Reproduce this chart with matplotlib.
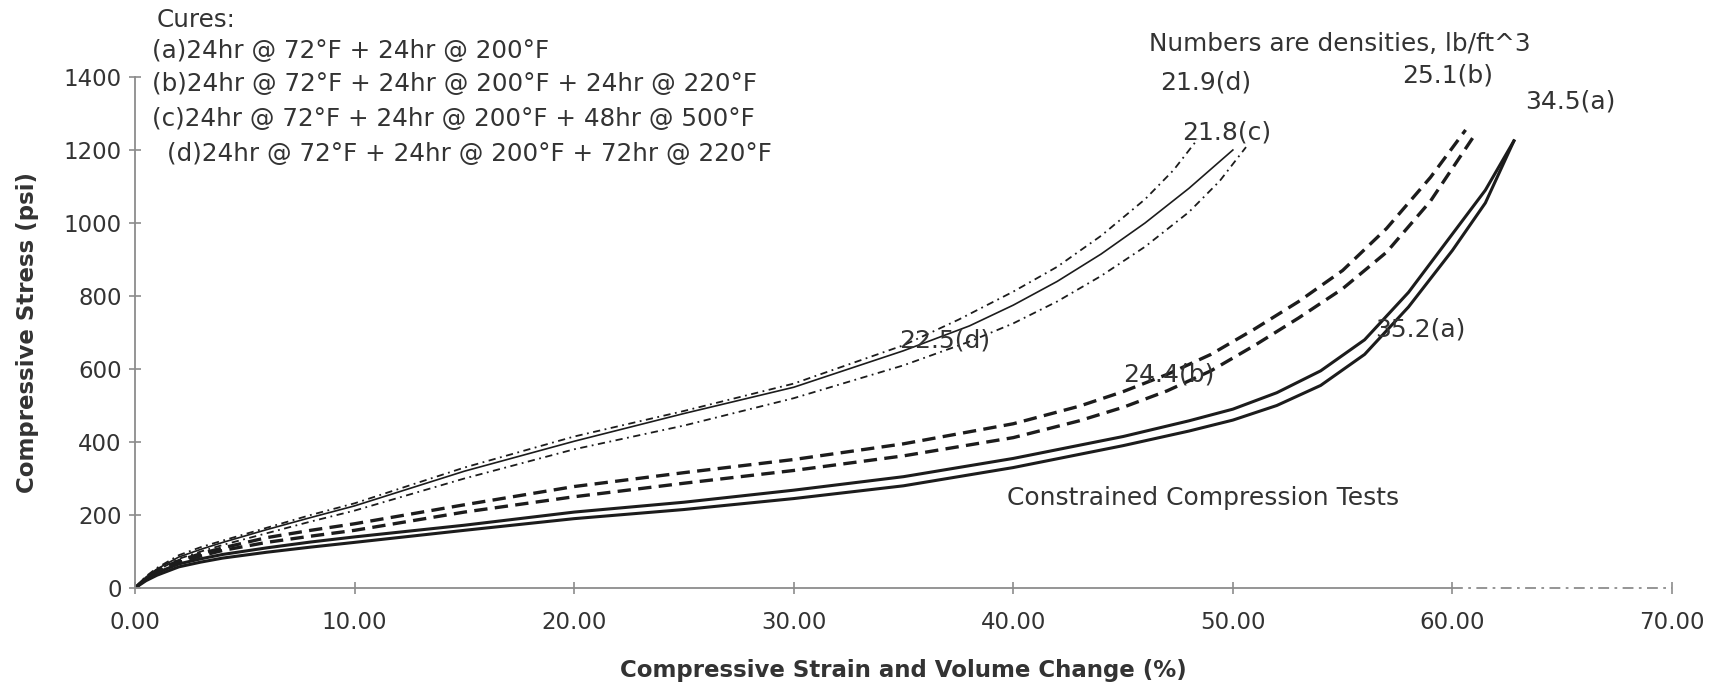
import numpy as np
import matplotlib
matplotlib.use("Agg")
import matplotlib.pyplot as plt

plt.rcParams['font.family'] = ['DejaVu Sans']

# (a) cure - solid heavy lines
a1_x = [0, 0.5, 1, 2, 3, 4, 6, 8, 10, 15, 20, 25, 30, 35, 40, 45, 48, 50, 52, 54, 56, 58, 60, 61.5, 62.8]
a1_y = [0, 25, 42, 66, 80, 92, 110, 126, 140, 172, 208, 235, 268, 305, 355, 415, 458, 490, 535, 595, 680, 810, 970, 1090, 1225]
a2_x = [0, 0.5, 1, 2, 3, 4, 6, 8, 10, 15, 20, 25, 30, 35, 40, 45, 48, 50, 52, 54, 56, 58, 60, 61.5, 62.8]
a2_y = [0, 20, 35, 58, 71, 82, 98, 112, 125, 158, 190, 215, 245, 280, 330, 390, 430, 460, 500, 555, 640, 770, 925, 1055, 1225]

# (b) cure - dashed lines
b1_x = [0, 0.5, 1, 2, 3, 4, 6, 8, 10, 15, 20, 25, 30, 35, 40, 43, 45, 47, 49, 51, 53, 55, 57, 59, 60.6]
b1_y = [0, 28, 48, 75, 94, 110, 138, 158, 176, 228, 278, 316, 352, 395, 450, 498, 538, 585, 640, 710, 785, 870, 985, 1125, 1255]
b2_x = [0, 0.5, 1, 2, 3, 4, 6, 8, 10, 15, 20, 25, 30, 35, 40, 43, 45, 47, 49, 51, 53, 55, 57, 59, 61]
b2_y = [0, 25, 44, 70, 88, 103, 125, 142, 158, 208, 250, 287, 322, 362, 412, 458, 495, 540, 595, 665, 740, 820, 920, 1060, 1240]

# (c) cure - thin solid
c_x = [0, 0.5, 1, 2, 3, 4, 6, 8, 10, 15, 20, 25, 30, 35, 38, 40, 42, 44, 46, 48, 50]
c_y = [0, 30, 52, 85, 106, 125, 160, 193, 225, 320, 402, 478, 550, 650, 718, 775, 840, 915, 1000, 1095, 1200]

# (d) cure - dash-dot
d1_x = [0, 0.5, 1, 2, 3, 4, 6, 8, 10, 15, 20, 25, 30, 35, 37.5, 40, 42, 44, 46, 47.3, 48.4]
d1_y = [0, 32, 55, 90, 112, 130, 165, 200, 232, 330, 415, 485, 560, 665, 735, 812, 880, 965, 1065, 1145, 1230]
d2_x = [0, 0.5, 1, 2, 3, 4, 6, 8, 10, 15, 20, 25, 30, 35, 38, 40, 42, 44, 46, 48, 49.4, 50.6]
d2_y = [0, 27, 48, 80, 100, 118, 150, 182, 212, 300, 380, 445, 520, 610, 675, 725, 785, 855, 935, 1030, 1115, 1208]

curve_labels = ["21.9(d)", "21.8(c)", "25.1(b)", "34.5(a)", "22.5(d)", "24.4(b)", "35.2(a)"]
label_pos = [(46.7, 1384), (47.7, 1249), (57.7, 1405), (63.3, 1334), (34.8, 677), (45.0, 586), (56.5, 707)]

cures = ["(a)24hr @ 72°F + 24hr @ 200°F",
         "(b)24hr @ 72°F + 24hr @ 200°F + 24hr @ 220°F",
         "(c)24hr @ 72°F + 24hr @ 200°F + 48hr @ 500°F",
         "(d)24hr @ 72°F + 24hr @ 200°F + 72hr @ 220°F"]

W, H = 1726, 691
fig = plt.figure(figsize=(W / 100, H / 100), dpi=100)
fig.patch.set_facecolor("white")
ax = fig.add_axes([135 / W, (H - 588) / H, 1537 / W, 511 / H])

ink = "#1c1c1c"
axc = "#8c8c8c"
txtc = "#333333"

ax.plot(a1_x, a1_y, color=ink, lw=2.2)
ax.plot(a2_x, a2_y, color=ink, lw=2.2)
ax.plot(b1_x, b1_y, color=ink, lw=2.4, dashes=(4, 2.2))
ax.plot(b2_x, b2_y, color=ink, lw=2.4, dashes=(4, 2.2))
ax.plot(c_x, c_y, color=ink, lw=1.2)
ax.plot(d1_x, d1_y, color=ink, lw=1.3, dashes=(4, 2.5, 1, 2.5))
ax.plot(d2_x, d2_y, color=ink, lw=1.3, dashes=(4, 2.5, 1, 2.5))

ax.set_xlim(0, 70)
ax.set_ylim(0, 1400)
ax.set_xticks(np.arange(0, 71, 10))
ax.set_xticklabels([f"{v:.2f}" for v in np.arange(0, 71, 10)])
ax.set_yticks(np.arange(0, 1401, 200))
ax.set_yticklabels([str(v) for v in np.arange(0, 1401, 200)])
ax.tick_params(direction="inout", length=9, width=1.2, color=axc,
               labelsize=16.5, labelcolor=txtc)
ax.tick_params(axis="x", pad=12)
ax.tick_params(axis="y", pad=5)

for s in ["top", "right"]:
    ax.spines[s].set_visible(False)
ax.spines["left"].set_color(axc)
ax.spines["left"].set_linewidth(1.3)
ax.spines["bottom"].set_color(axc)
ax.spines["bottom"].set_linewidth(1.3)
ax.spines["bottom"].set_bounds(0, 60)
ax.plot([60, 70], [0, 0], color=axc, lw=1.3, dashes=(6, 3, 1.5, 3),
        transform=ax.get_xaxis_transform(), clip_on=False)

ax.set_xlabel("Compressive Strain and Volume Change (%)", fontsize=16.5,
              fontweight="bold", color=txtc, labelpad=18)
ax.set_ylabel("Compressive Stress (psi)", fontsize=16.5, fontweight="bold",
              color=txtc, labelpad=18)

for txt, (lx, ly) in zip(curve_labels, label_pos):
    ax.text(lx, ly, txt, fontsize=18, color=txtc, ha="left", va="center", clip_on=False)

ax.text(46.2, 1490, "Numbers are densities, lb/ft^3", fontsize=17.8, color=txtc,
        ha="left", va="center", clip_on=False)
ax.text(39.7, 247, "Constrained Compression Tests", fontsize=18, color=txtc,
        ha="left", va="center")

fig.text(157 / W, 1 - 20 / H, "Cures:", fontsize=17.7, color=txtc, ha="left", va="center")
for txt, lx, ly in zip(cures, [152, 152, 152, 167], [51, 84, 119, 154]):
    fig.text(lx / W, 1 - ly / H, txt, fontsize=17.7, color=txtc, ha="left", va="center")

fig.savefig("out.png", dpi=100, facecolor="white")
